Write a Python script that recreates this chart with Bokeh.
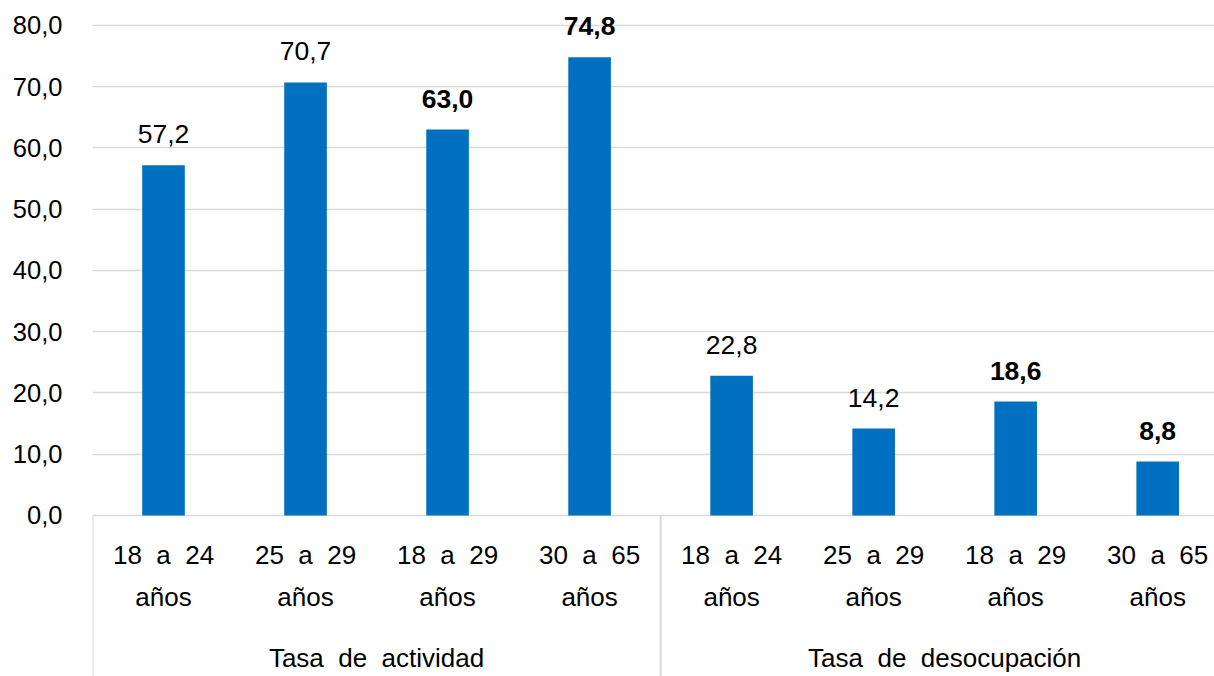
from bokeh.plotting import figure
from bokeh.models import Range1d, FixedTicker, CustomJSTickFormatter, ColumnDataSource
from bokeh.core.properties import value
from bokeh.embed import file_html
from bokeh.resources import INLINE

# ---- data ----
grupos = ["Tasa de actividad", "Tasa de desocupación"]
rangos = ["18 a 24 años", "25 a 29 años", "18 a 29 años", "30 a 65 años"]
tasa_actividad = [57.2, 70.7, 63.0, 74.8]
tasa_desocupacion = [22.8, 14.2, 18.6, 8.8]
y_ticks = [0, 10, 20, 30, 40, 50, 60, 70, 80]

series = [tasa_actividad, tasa_desocupacion]
n_sub = len(rangos)
WIDE = "\u00a0 "  # justified (wide) word spacing as in the original

xs, vals, labels, line1, line2, styles = [], [], [], [], [], []
for gi, g in enumerate(grupos):
    for ri, r in enumerate(rangos):
        xs.append(gi * n_sub + ri + 0.5)
        v = series[gi][ri]
        vals.append(v)
        labels.append(f"{v:.1f}".replace(".", ","))
        parts = r.split(" ")
        line1.append(WIDE.join(parts[:-1]))
        line2.append(parts[-1])
        styles.append("bold" if ri >= 2 else "normal")

src = ColumnDataSource(dict(x=xs, top=vals, label=labels, l1=line1, l2=line2,
                            style=styles, zero=[0] * len(xs)))

gx = [gi * n_sub + n_sub / 2 for gi in range(len(grupos))]
gsrc = ColumnDataSource(dict(x=gx, name=[WIDE.join(g.split(" ")) for g in grupos],
                             zero=[0] * len(grupos)))
bounds = [gi * n_sub for gi in range(len(grupos) + 1)]

FONT = value("Liberation Sans")
Y_START, Y_END = -26.29, 84.08

p = figure(width=1214, height=676, x_range=Range1d(0, 7.9), y_range=Range1d(Y_START, Y_END),
           x_axis_type=None, output_backend="svg", toolbar_location=None,
           min_border_left=92, min_border_right=0, min_border_top=0, min_border_bottom=0)
p.outline_line_color = None

p.ygrid.ticker = FixedTicker(ticks=y_ticks)
p.ygrid.grid_line_color = "#d9d9d9"
p.ygrid.grid_line_width = 1.5

ax = p.yaxis[0]
ax.ticker = FixedTicker(ticks=y_ticks)
ax.formatter = CustomJSTickFormatter(code="return tick.toFixed(1).replace('.', ',');")
ax.axis_line_color = None
ax.major_tick_line_color = None
ax.minor_tick_line_color = None
ax.major_tick_out = 0
ax.major_label_standoff = 30
ax.major_label_text_font = "Liberation Sans"
ax.major_label_text_font_size = "25.5px"
ax.major_label_text_color = "#000000"

# separators between groups
p.segment(x0=bounds, y0=[0] * len(bounds), x1=bounds, y1=[Y_START] * len(bounds),
          line_color="#d9d9d9", line_width=2)

p.vbar(x="x", top="top", width=0.3, bottom=0, source=src, fill_color="#0070C0", line_color=None)

p.text(x="x", y="top", text="label", source=src, text_align="center", text_baseline="middle",
       y_offset=-31, text_font=FONT, text_font_size="26.5px", text_font_style="style",
       text_color="#000000")

p.text(x="x", y="zero", text="l1", source=src, text_align="center", text_baseline="middle",
       y_offset=40, text_font=FONT, text_font_size="26px", text_color="#000000")
p.text(x="x", y="zero", text="l2", source=src, text_align="center", text_baseline="middle",
       y_offset=82, text_font=FONT, text_font_size="26px", text_color="#000000")
p.text(x="x", y="zero", text="name", source=gsrc, text_align="center", text_baseline="middle",
       y_offset=143, text_font=FONT, text_font_size="26px", text_color="#000000")

open("out.html", "w").write(file_html(p, INLINE))
